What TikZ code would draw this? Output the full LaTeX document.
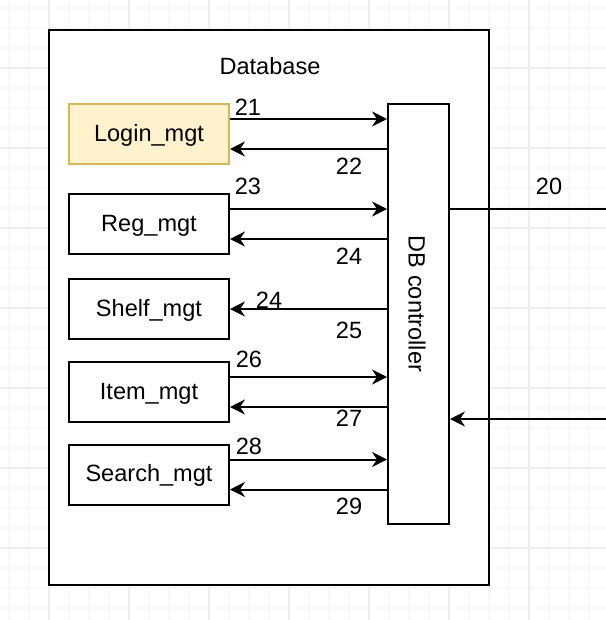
\documentclass[tikz,border=0pt]{standalone}
\usepackage{fontspec}
\setmainfont{Liberation Sans}
\usetikzlibrary{arrows.meta, positioning}
\definecolor{loginfill}{RGB}{255, 242, 204}
\definecolor{loginline}{RGB}{214, 182, 86}
\definecolor{gridminor}{RGB}{248, 248, 248}
\definecolor{gridmajor}{RGB}{238, 238, 238}

\begin{document}
\begin{tikzpicture}[x=0.2mm, y=-0.2mm,
  every node/.style={font=\fontsize{13.4}{16}\selectfont},
  mbox/.style={draw, line width=0.4mm, minimum width=32mm, minimum height=12mm, inner sep=0pt, text height=0.84em, text depth=0pt},
  flow/.style={-{Stealth[length=3mm, width=3mm, inset=1mm]}, line width=0.4mm}
]
  \useasboundingbox (0,0) rectangle (606,620);

  % Background grid
  \begin{scope}
    \clip (0,0) rectangle (606,620);
    \draw[gridminor, line width=0.3mm, xshift=1.8mm, yshift=-1.6mm, step=4mm] (-40,-40) grid (660,680);
    \draw[gridmajor, line width=0.3mm, xshift=9.8mm, yshift=-13.6mm, step=16mm] (-80,-80) grid (720,720);
  \end{scope}

  % Database container
  \node[draw, line width=0.4mm, fill=white, minimum width=88mm, minimum height=111mm] (dbase) at (269, 307.5) {};
  \node (dbtitle) at (270, 66) {Database};

  % Modules
  \node[mbox, fill=loginfill, draw=loginline] (login) at (149, 134) {Login\_mgt};
  \node[mbox] (reg) at (149, 224) {Reg\_mgt};
  \node[mbox] (shelf) at (149, 309) {Shelf\_mgt};
  \node[mbox] (item) at (149, 392) {Item\_mgt};
  \node[mbox] (search) at (149, 474.5) {Search\_mgt};

  % Controller
  \node[draw, line width=0.4mm, minimum width=12.2mm, minimum height=84mm] (dbc) at (418.5, 314) {};
  \node[rotate=-90] (dbctext) at (417, 304) {DB controller};

  \draw[flow] ([yshift=3mm]login.east) -- ([yshift=3mm]login.east -| dbc.west);
  \draw[flow] ([yshift=-3mm]login.east -| dbc.west) -- ([yshift=-3mm]login.east);
  \draw[flow] ([yshift=3mm]reg.east) -- ([yshift=3mm]reg.east -| dbc.west);
  \draw[flow] ([yshift=-3mm]reg.east -| dbc.west) -- ([yshift=-3mm]reg.east);
  \draw[flow] (shelf.east -| dbc.west) -- (shelf.east);
  \draw[flow] ([yshift=3mm]item.east) -- ([yshift=3mm]item.east -| dbc.west);
  \draw[flow] ([yshift=-3mm]item.east -| dbc.west) -- ([yshift=-3mm]item.east);
  \draw[flow] ([yshift=3mm]search.east) -- ([yshift=3mm]search.east -| dbc.west);
  \draw[flow] ([yshift=-3mm]search.east -| dbc.west) -- ([yshift=-3mm]search.east);

  % External links
  \coordinate (out20) at (610, 209);
  \coordinate (in20) at (610, 419);
  \draw[line width=0.4mm] (out20 -| dbc.east) -- (out20);
  \draw[flow] (in20) -- (in20 -| dbc.east);

  % Flow numbers
  \node (n21) at (248, 107) {21};
  \node (n22) at (349, 166) {22};
  \node (n23) at (248, 186) {23};
  \node (n24a) at (349, 256) {24};
  \node (n24b) at (269, 300) {24};
  \node (n25) at (349, 330) {25};
  \node (n26) at (249, 359) {26};
  \node (n27) at (349, 418) {27};
  \node (n28) at (249, 446) {28};
  \node (n29) at (349, 506) {29};
  \node (n20) at (549, 186) {20};
\end{tikzpicture}
\end{document}
